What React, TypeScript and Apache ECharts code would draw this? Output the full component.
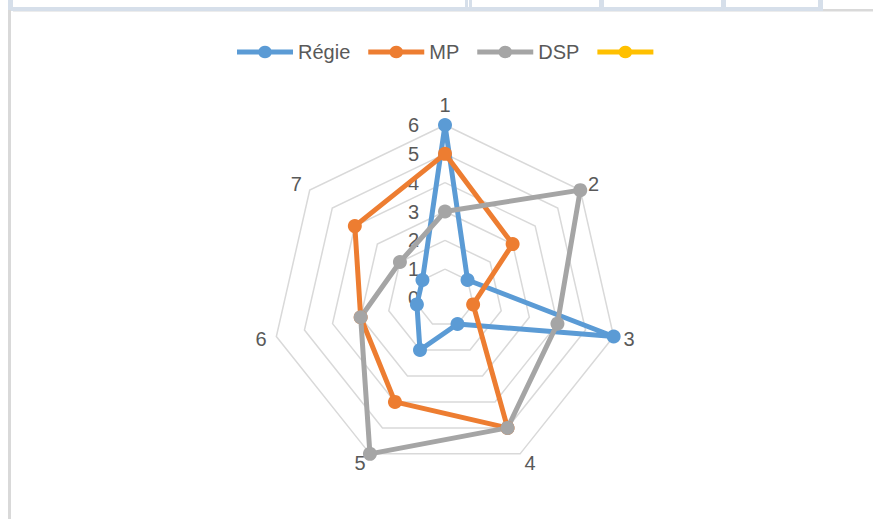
import React, { useEffect, useRef } from "react";
import * as echarts from "echarts";

const categories = ["1", "2", "3", "4", "5", "6", "7"];
const seriesNames = ["Régie", "MP", "DSP", " "];
const regie = [6, 1, 6, 1, 2, 1, 1];
const mp = [5, 3, 1, 5, 4, 3, 4];
const dsp = [3, 6, 4, 5, 6, 3, 2];
const extra: number[] = [];
const valueMin = 0;
const valueMax = 6;
const colors = ["#5B9BD5", "#ED7D31", "#A5A5A5", "#FFC000"];

const FONT = "'Liberation Sans', Arial, sans-serif";
const TEXT = "#595959";

// ECharts places indicators counter-clockwise; Excel places them clockwise.
const order = [0, 6, 5, 4, 3, 2, 1];
const reorder = (arr: number[]) => (arr.length ? order.map((i) => arr[i]) : []);

const legendIcon =
  "path://M0,4.6 L21.3,4.6 A7,7 0 0 1 33.7,4.6 L55,4.6 L55,9.4 L33.7,9.4 A7,7 0 0 1 21.3,9.4 L0,9.4 Z";

export default function App() {
  const ref = useRef<HTMLDivElement>(null);
  useEffect(() => {
    if (!ref.current) return;
    const chart = echarts.init(ref.current, null, { renderer: "svg" });
    const all = [regie, mp, dsp, extra];
    const frameBlue = "#d6dfea";
    const frameGray = "#d9d9d9";
    chart.setOption({
      animation: false,
      backgroundColor: "#ffffff",
      graphic: [
        { type: "rect", shape: { x: 8, y: 7, width: 815, height: 4 }, style: { fill: frameBlue } },
        { type: "rect", shape: { x: 8, y: 0, width: 5, height: 10 }, style: { fill: frameBlue } },
        { type: "rect", shape: { x: 465, y: 0, width: 3, height: 10 }, style: { fill: frameBlue } },
        { type: "rect", shape: { x: 469, y: 0, width: 3, height: 10 }, style: { fill: frameBlue } },
        { type: "rect", shape: { x: 599, y: 0, width: 5, height: 10 }, style: { fill: frameBlue } },
        { type: "rect", shape: { x: 721, y: 0, width: 5, height: 10 }, style: { fill: frameBlue } },
        { type: "rect", shape: { x: 818, y: 0, width: 5, height: 10 }, style: { fill: frameBlue } },
        { type: "rect", shape: { x: 823, y: 9, width: 50, height: 2 }, style: { fill: frameGray } },
        { type: "rect", shape: { x: 13, y: 11, width: 860, height: 1 }, style: { fill: "#ececec" } },
        { type: "rect", shape: { x: 8, y: 10, width: 3, height: 509 }, style: { fill: frameGray } },
      ],
      legend: {
        top: 37,
        left: 232,
        itemWidth: 56,
        itemHeight: 14,
        itemGap: 18,
        icon: legendIcon,
        textStyle: { color: TEXT, fontSize: 20, fontFamily: FONT },
        data: seriesNames,
      },
      radar: {
        center: [445, 298],
        radius: 173,
        startAngle: 90,
        shape: "polygon",
        splitNumber: 6,
        nameGap: 10,
        axisName: { color: TEXT, fontSize: 20, fontFamily: FONT },
        axisLine: { show: false },
        axisTick: { show: false },
        axisLabel: { show: false },
        splitLine: { lineStyle: { color: "#d9d9d9", width: 1.5 } },
        splitArea: { show: false },
        indicator: order.map((i, k) => ({
          name: categories[i],
          min: valueMin,
          max: valueMax,
          ...(k === 0
            ? {
                axisLabel: {
                  show: true,
                  color: TEXT,
                  fontSize: 20,
                  fontFamily: FONT,
                  margin: 26,
                  padding: [6, 0, 0, 0],
                },
              }
            : {}),
        })),
      },
      series: all.map((vals, s) => ({
        type: "radar",
        name: seriesNames[s],
        symbol: vals.length ? "circle" : "none",
        symbolSize: 14,
        itemStyle: { color: colors[s] },
        lineStyle: { color: colors[s], width: vals.length ? 5 : 0 },
        data: [{ name: seriesNames[s], value: reorder(vals) }],
      })),
    });
    return () => chart.dispose();
  }, []);
  return (
    <div
      ref={ref}
      style={{ position: "absolute", left: 0, top: 0, width: 873, height: 519 }}
    />
  );
}
